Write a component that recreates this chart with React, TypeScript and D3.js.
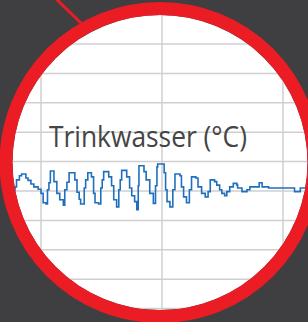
import { scaleLinear, line, curveStepAfter, range } from "d3";

// hours since start of week 1 (step start points)
const hours = [
  -46, -36, -34, -30, -27, -21, -18, -14, -10, -4, 0, 3, 7,
  9, 11, 13, 18, 22, 26, 31,
  33, 36, 39, 47, 50, 53, 55,
  60, 62, 65, 70, 73, 75, 80,
  83, 85, 87, 94, 98, 101, 105,
  108, 110, 112, 119, 123, 126, 130, 133,
  135, 136, 143, 146, 151, 156,
  159, 161, 162, 171, 173, 175, 179,
  183, 186, 193, 195, 198, 202,
  206, 209, 215, 218, 223, 228,
  232, 235, 241, 244, 248, 251, 255,
  258, 262, 267, 272, 273, 279, 286, 290, 303, 307, 316, 352, 360, 380,
];
// Trinkwasser temperature (°C)
const temps = [
  20.0, 20.7, 21.9, 22.6, 22.9, 22.2, 21.8, 21.2, 20.7, 20.3, 19.6, 18.0, 17.8,
  20.2, 21.4, 23.4, 21.6, 19.6, 18.5, 17.6,
  20.2, 21.5, 23.1, 21.9, 19.8, 18.6, 17.8,
  20.5, 21.9, 23.1, 22.4, 19.6, 18.0, 17.8,
  20.5, 21.9, 23.3, 22.4, 20.9, 18.5, 17.3,
  20.2, 21.9, 23.5, 22.4, 20.5, 19.2, 18.2, 16.8,
  20.9, 24.3, 23.3, 21.9, 19.6, 17.9,
  20.9, 24.1, 24.6, 23.1, 20.2, 18.2, 17.3,
  20.2, 22.9, 22.6, 20.7, 19.0, 18.0,
  20.2, 22.4, 22.2, 20.7, 19.6, 19.0,
  19.9, 21.9, 21.6, 21.0, 20.2, 19.6, 19.2,
  19.9, 20.7, 21.3, 21.0, 20.5, 19.9, 20.2, 20.7, 21.4, 20.7, 20.5, 19.9, 20.5, 20.5,
];
const weekTicks = [-168, 0, 168, 336, 504];
const tempTicks = range(0, 55, 5);
const title = "Trinkwasser (°C)";

const W = 308;
const H = 322;
const cx = 160;
const cy = 162.5;
const rInner = 147.5;
const ring = 13;

export default function App() {
  const x = scaleLinear().domain([0, 168]).range([41, 162]);
  const y = scaleLinear().domain([0, 50]).range([308.6, 14.6]);
  const pts = hours.map((h, i) => [h, temps[i]] as [number, number]);
  const path = line<[number, number]>()
    .x((d) => x(d[0]))
    .y((d) => y(d[1]))
    .curve(curveStepAfter)(pts);

  return (
    <svg
      width={W}
      height={H}
      style={{ position: "absolute", left: 0, top: 0, display: "block" }}
    >
      <defs>
        <clipPath id="inner">
          <circle cx={cx} cy={cy} r={rInner} />
        </clipPath>
      </defs>
      <rect width={W} height={H} fill="#3f3f41" />
      <line x1={48} y1={-9} x2={84} y2={26} stroke="#ec1c24" strokeWidth={3} />
      <circle cx={cx} cy={cy} r={rInner} fill="#fff" />
      <g clipPath="url(#inner)">
        {tempTicks.map((t) => (
          <line key={"h" + t} x1={0} x2={W} y1={y(t)} y2={y(t)} stroke="#cfcfcf" strokeWidth={1.5} />
        ))}
        {weekTicks.map((t) => (
          <line key={"v" + t} x1={x(t)} x2={x(t)} y1={0} y2={H} stroke="#cfcfcf" strokeWidth={1.5} />
        ))}
        <text
          x={49}
          y={146.5}
          fontFamily="'Open Sans', sans-serif"
          fontSize={29}
          fill="#454545"
          textLength={198}
          lengthAdjust="spacingAndGlyphs"
        >
          {title}
        </text>
        <path d={path ?? ""} fill="none" stroke="#1f6fbf" strokeWidth={1.6} />
      </g>
      <circle
        cx={cx}
        cy={cy}
        r={rInner + ring / 2}
        fill="none"
        stroke="#ec1c24"
        strokeWidth={ring}
      />
    </svg>
  );
}
